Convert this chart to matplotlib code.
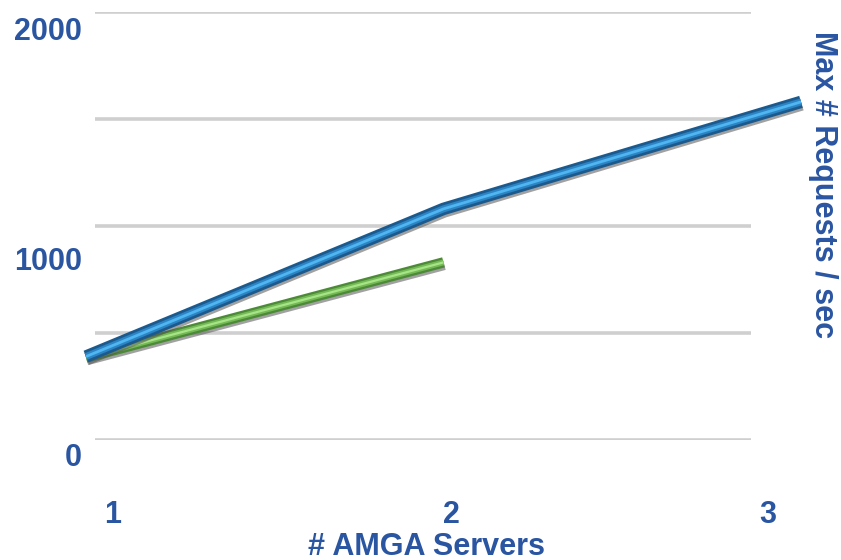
import matplotlib
matplotlib.use("Agg")
import matplotlib.pyplot as plt
import matplotlib.patheffects as pe
from matplotlib.transforms import ScaledTranslation

# ---- data ----
servers = [1, 2, 3]
blue_values = [390, 1080, 1580]
green_servers = [1, 2]
green_values = [385, 830]
y_ticks = [0, 1000, 2000]
grid_levels = [0, 500, 1000, 1500, 2000]
x_tick_labels = ["1", "2", "3"]
x_title = "# AMGA Servers"
y_title = "Max # Requests / sec"

TXT = "#2a55a1"
plt.rcParams["font.family"] = ["Liberation Sans", "DejaVu Sans"]

W, H = 841, 560
fig = plt.figure(figsize=(W / 100, H / 100), dpi=100)
x0, x1 = 86, 801     # pixel columns of x=1 and x=3
yb, yt = 440, 12     # pixel rows of y=0 and y=2000
ax = fig.add_axes([x0 / W, (H - yb) / H, (x1 - x0) / W, (yb - yt) / H])
ax.set_xlim(1, 3)
ax.set_ylim(0, 2000)
for s in ax.spines.values():
    s.set_visible(False)

# gridlines (only across the back wall)
ax.hlines(grid_levels, 1.025, 2.86, colors="#cfcfcf", lw=2.6, zorder=1)

shadow = [pe.SimpleLineShadow(offset=(0.6, -1.8), shadow_color="#555555", alpha=0.55), pe.Normal()]

# green tube
ax.plot(green_servers, green_values, color="#4c8a38", lw=7.5, solid_capstyle="butt",
        clip_on=False, zorder=3, path_effects=shadow)
ax.plot(green_servers, green_values, color="#74b956", lw=4.2, solid_capstyle="butt",
        clip_on=False, zorder=3)
ax.plot(green_servers, green_values, color="#a6e487", lw=1.6, solid_capstyle="butt",
        clip_on=False, zorder=3)

# blue tube
ax.plot(servers, blue_values, color="#1c5a8e", lw=9, solid_capstyle="butt",
        solid_joinstyle="round", clip_on=False, zorder=4, path_effects=shadow)
ax.plot(servers, blue_values, color="#2c84c4", lw=5, solid_capstyle="butt",
        solid_joinstyle="round", clip_on=False, zorder=4)
ax.plot(servers, blue_values, color="#4fb6f2", lw=2, solid_capstyle="butt",
        solid_joinstyle="round", clip_on=False, zorder=4)

# ticks
ax.set_yticks(y_ticks)
ax.set_yticklabels([str(v) for v in y_ticks])
ax.set_xticks(servers)
ax.set_xticklabels(x_tick_labels)
ax.tick_params(axis="y", length=0, pad=3, labelsize=22, labelcolor=TXT)
ax.tick_params(axis="x", length=0, pad=43, labelsize=22, labelcolor=TXT)
y_off = [-0.14, -0.33, -0.17]
for lbl, dy in zip(ax.get_yticklabels(), y_off):
    lbl.set_fontweight("bold")
    lbl.set_transform(lbl.get_transform() + ScaledTranslation(0, dy, fig.dpi_scale_trans))
x_off = [0.27, 0.08, -0.33]
for lbl, dx in zip(ax.get_xticklabels(), x_off):
    lbl.set_fontweight("bold")
    lbl.set_transform(lbl.get_transform() + ScaledTranslation(dx, 0, fig.dpi_scale_trans))

ax.set_xlabel(x_title, fontsize=22, fontweight="bold", color=TXT, va="center")
ax.xaxis.set_label_coords((427 - x0) / (x1 - x0), -(547 - yb) / (yb - yt))
ax.yaxis.set_label_position("right")
ax.set_ylabel(y_title, fontsize=22, fontweight="bold", color=TXT, rotation=-90,
              va="center", ha="center")
ax.yaxis.set_label_coords((823 - x0) / (x1 - x0), (yb - 185) / (yb - yt))

fig.savefig("out.png", dpi=100)
